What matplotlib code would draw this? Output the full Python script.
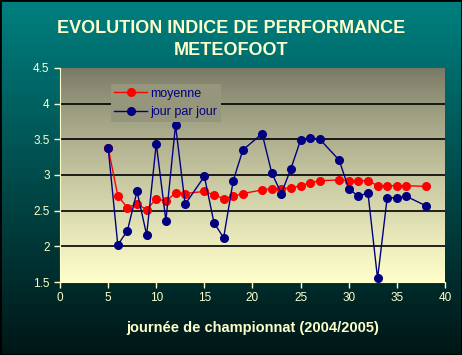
import numpy as np
import matplotlib
matplotlib.use("Agg")
import matplotlib.pyplot as plt
from matplotlib.patches import Rectangle

# données
journees = [5, 6, 7, 8, 9, 10, 11, 12, 13, 15, 16, 17, 18, 19, 21, 22, 23, 24,
            25, 26, 27, 29, 30, 31, 32, 33, 34, 35, 36, 38]
moyenne = [3.38, 2.71, 2.54, 2.60, 2.51, 2.67, 2.63, 2.75, 2.74, 2.77, 2.72, 2.67,
           2.70, 2.74, 2.79, 2.81, 2.81, 2.82, 2.85, 2.89, 2.92, 2.93, 2.92, 2.92,
           2.92, 2.85, 2.85, 2.85, 2.85, 2.84]
jour_par_jour = [3.38, 2.02, 2.22, 2.77, 2.16, 3.44, 2.36, 3.70, 2.59, 2.98, 2.33,
                 2.12, 2.92, 3.35, 3.58, 3.03, 2.74, 3.09, 3.49, 3.52, 3.50, 3.21,
                 2.81, 2.70, 2.75, 1.55, 2.68, 2.68, 2.70, 2.57]
xticks = [0, 5, 10, 15, 20, 25, 30, 35, 40]
yticks = [1.5, 2, 2.5, 3, 3.5, 4, 4.5]
ylabels = ['1.5', '2', '2.5', '3', '3.5', '4', '4.5']

JAUNE = '#FFFFCC'
plt.rcParams['font.family'] = ['Liberation Sans', 'DejaVu Sans']

fig = plt.figure(figsize=(4.62, 3.55), dpi=100)

# fond de la figure : dégradé sarcelle -> noir
bg = fig.add_axes([0, 0, 1, 1], zorder=-10)
bg.axis('off')
t = np.linspace(0, 1, 256)[:, None]
top = np.array([0, 128, 128]) / 255
bot = np.array([0, 22, 22]) / 255
grad = top[None, None, :] * (1 - t[:, :, None]) + bot[None, None, :] * t[:, :, None]
bg.imshow(grad, aspect='auto', extent=[0, 1, 0, 1], transform=bg.transAxes)
fig.patches.append(Rectangle((0, 0), 1, 1, transform=fig.transFigure, fill=False,
                             edgecolor='black', linewidth=2))

ax = fig.add_axes([0.13, 0.2056, 0.833, 0.603])

# zone de traçage : dégradé gris -> jaune pâle
ptop = np.array([118, 118, 100]) / 255
pbot = np.array([255, 255, 204]) / 255
s = np.linspace(0, 1, 256)[:, None] ** 0.8
pgrad = ptop[None, None, :] * (1 - s[:, :, None]) + pbot[None, None, :] * s[:, :, None]
ax.imshow(pgrad, aspect='auto', extent=[0, 1, 0, 1], transform=ax.transAxes, zorder=0)

ax.plot(journees, moyenne, color='red', marker='o', markersize=5.5, linewidth=1,
        label='moyenne', zorder=3)
ax.plot(journees, jour_par_jour, color='#000080', marker='o', markersize=5.5,
        linewidth=1, label='jour par jour', zorder=4)

ax.set_xlim(0, 40)
ax.set_ylim(1.5, 4.5)
ax.set_xticks(xticks)
ax.set_yticks(yticks)
ax.set_yticklabels(ylabels)
for y in yticks[1:-1]:
    ax.axhline(y, color='black', linewidth=1.2, zorder=1)

for side in ['top', 'right']:
    ax.spines[side].set_visible(False)
for side in ['left', 'bottom']:
    ax.spines[side].set_color(JAUNE)
ax.tick_params(colors=JAUNE, labelsize=8.5, length=4, width=1)

ax.set_xlabel('journée de championnat (2004/2005)', color=JAUNE, fontsize=10.5,
              fontweight='bold', labelpad=12)
fig.text(0.5, 0.889, 'EVOLUTION INDICE DE PERFORMANCE\nMETEOFOOT', ha='center',
         va='center', color=JAUNE, fontsize=13, fontweight='bold', linespacing=1.4)

# couleur du dégradé au niveau de la légende
fr = 0.165 ** 0.8
leg_col = ptop * (1 - fr) + pbot * fr
leg = ax.legend(loc='upper left', bbox_to_anchor=(0.115, 0.955), frameon=True,
                fontsize=9, handlelength=2.6, borderpad=0.3, labelspacing=0.55,
                handletextpad=0.3, fancybox=False)
leg.get_frame().set_facecolor(leg_col)
leg.get_frame().set_edgecolor('none')
leg.get_frame().set_alpha(1)
for txt in leg.get_texts():
    txt.set_color('#000080')

fig.savefig('out.png', dpi=100)
